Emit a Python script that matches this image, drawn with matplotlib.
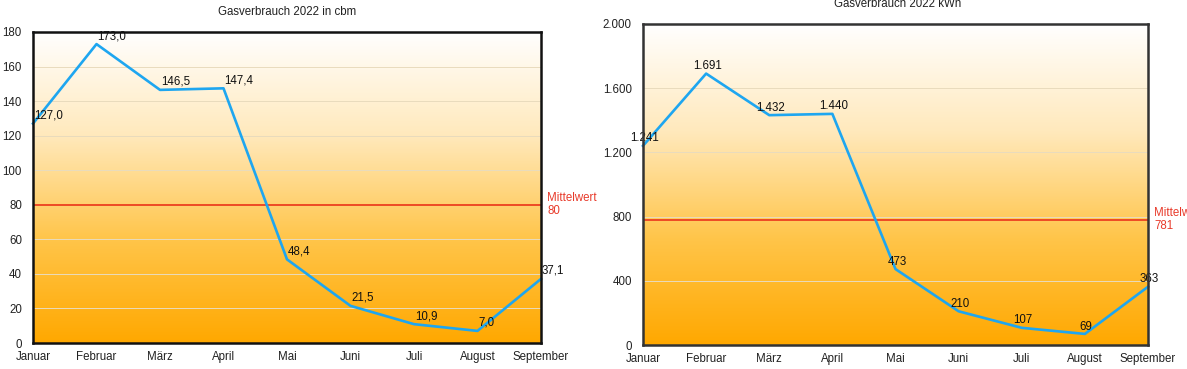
import numpy as np
import matplotlib
matplotlib.use("Agg")
import matplotlib.pyplot as plt
from matplotlib.colors import LinearSegmentedColormap

plt.rcParams['font.family'] = ['Liberation Sans', 'DejaVu Sans']

months = ["Januar", "Februar", "März", "April", "Mai", "Juni", "Juli", "August", "September"]
cbm = [127.0, 173.0, 146.5, 147.4, 48.4, 21.5, 10.9, 7.0, 37.1]
kwh = [1241, 1691, 1432, 1440, 473, 210, 107, 69, 363]
cbm_ticks = [0, 20, 40, 60, 80, 100, 120, 140, 160, 180]
kwh_ticks = [0, 400, 800, 1200, 1600, 2000]

W, H = 1187, 369
fig = plt.figure(figsize=(W / 100, H / 100), dpi=100)

grad = LinearSegmentedColormap.from_list("bg", ["#FFFFFF", "#FFE9BC", "#FFC54A", "#FFA800"])


def px_axes(x0, y0, x1, y1):
    # pixel box (top-left origin) -> figure coords
    return fig.add_axes([x0 / W, 1 - y1 / H, (x1 - x0) / W, (y1 - y0) / H])


def setup(ax, ticks, ymax, spine_color):
    ax.imshow(np.linspace(0, 1, 256).reshape(-1, 1), cmap=grad, aspect='auto',
              extent=[0, 1, 0, 1], transform=ax.transAxes, zorder=0)
    ax.set_xlim(0, len(months) - 1)
    ax.set_ylim(0, ymax)
    ax.set_xticks(range(len(months)))
    ax.set_xticklabels(months)
    ax.set_yticks(ticks)
    for t in ticks[1:-1]:
        ax.axhline(t, color="#E9DBBD", lw=0.7, zorder=1)
    ax.tick_params(length=0, labelsize=8.3, pad=8, colors="#222222")
    ax.tick_params(axis='x', pad=6)
    for s in ax.spines.values():
        s.set_color(spine_color)
        s.set_linewidth(1.8)
        s.set_zorder(5)


# left chart: cbm
ax1 = px_axes(33, 32, 541, 343)
setup(ax1, cbm_ticks, 180, "#111111")
ax1.set_yticklabels([str(t) for t in cbm_ticks])
x = np.arange(len(months))
ax1.plot(x, cbm, color="#1EA6F0", lw=1.9, zorder=3, clip_on=False)
m1 = round(np.mean(cbm))
ax1.axhline(m1, color="#EE4A24", lw=1.4, zorder=2)
ax1.text(1.012, m1, f"Mittelwert\n{m1}", transform=ax1.get_yaxis_transform(),
         color="#E83A2A", fontsize=8.3, va='center', ha='left', linespacing=1.1)
for i, v in enumerate(cbm):
    ax1.annotate(f"{v:.1f}".replace(".", ","), (i, v), xytext=(0.5, 1.5),
                 textcoords='offset points', fontsize=8.3, ha='left', va='bottom',
                 color="#111111", zorder=4, annotation_clip=False)
fig.text(287 / W, 1 - 12 / H, "Gasverbrauch 2022 in cbm", ha='center', va='center',
         fontsize=8.3, color="#222222")

# right chart: kWh
ax2 = px_axes(643, 24, 1148, 345)
setup(ax2, kwh_ticks, 2000, "#333333")
ax2.set_yticklabels([f"{t:,}".replace(",", ".") for t in kwh_ticks])
ax2.plot(x, kwh, color="#1EA6F0", lw=1.9, zorder=3, clip_on=False)
m2 = round(np.mean(kwh))
ax2.axhline(m2, color="#EE4A24", lw=1.4, zorder=2)
ax2.text(1.012, m2, f"Mittelwert\n{m2}", transform=ax2.get_yaxis_transform(),
         color="#E83A2A", fontsize=8.3, va='center', ha='left', linespacing=1.1)
for i, v in enumerate(kwh):
    ax2.annotate(f"{v:,}".replace(",", "."), (i, v), xytext=(1, 1),
                 textcoords='offset points', fontsize=8.3, ha='center', va='bottom',
                 color="#111111", zorder=4, annotation_clip=False)
fig.text(898 / W, 1 - 4 / H, "Gasverbrauch 2022 kWh", ha='center', va='center',
         fontsize=8.3, color="#222222")

fig.savefig("out.png", dpi=100)
